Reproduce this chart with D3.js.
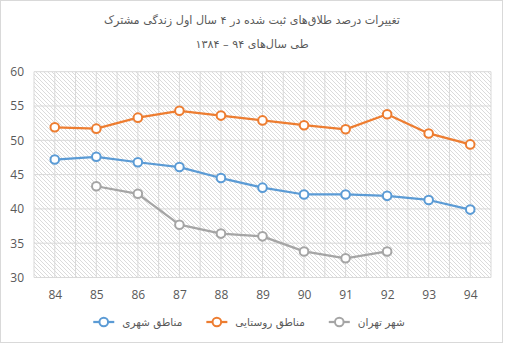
<!DOCTYPE html>
<html><head><meta charset="utf-8">
<script src="https://cdn.jsdelivr.net/npm/d3@7"></script>
<style>body{margin:0;background:#fff}svg{display:block}</style>
</head><body><svg id="c" width="505" height="344"></svg>
<script>
const years = ["84","85","86","87","88","89","90","91","92","93","94"];
const urban = [47.2,47.6,46.8,46.1,44.5,43.1,42.1,42.1,41.9,41.3,39.9];
const rural = [51.9,51.7,53.3,54.3,53.6,52.9,52.2,51.6,53.8,51.0,49.4];
const tehran = [null,43.3,42.2,37.7,36.4,36.0,33.8,32.8,33.8,null,null];
const yTicks = [30,35,40,45,50,55,60];
const seriesNames = ["مناطق شهری","مناطق روستایی","شهر تهران"];
const seriesColors = ["#5B9BD5","#ED7D31","#A5A5A5"];
const titleLines = ["تغییرات درصد طلاق\u200cهای ثبت شده در ۴ سال اول زندگی مشترک","طی سال\u200cهای ۹۴ – ۱۳۸۴"];

const svg = d3.select("#c");
const L = 34, R = 491, T = 71.7, B = 277.5;
const faFont = "'DejaVu Sans', sans-serif";
const numFont = "'Open Sans', 'Liberation Sans', sans-serif";

svg.append("rect").attr("x",0.5).attr("y",0.5).attr("width",502).attr("height",342)
  .attr("fill","#fff").attr("stroke","#D9D9D9");

const defs = svg.append("defs");
const pat = defs.append("pattern").attr("id","hatch").attr("patternUnits","userSpaceOnUse")
  .attr("width",4).attr("height",4);
pat.append("path").attr("d","M-1,-1 L5,5 M-1,3 L1,5 M3,-1 L5,1")
  .attr("stroke","#D2D2D2").attr("stroke-width",0.8).attr("fill","none");

const x = d3.scalePoint().domain(years).range([L,R]).padding(0.5);
const y = d3.scaleLinear().domain([30,60]).range([B,T]);

svg.append("rect").attr("x",L).attr("y",T).attr("width",R-L).attr("height",B-T).attr("fill","url(#hatch)");

// grid
const step = x.step();
const vLines = [];
for (let i=0;i<=years.length*2;i++) vLines.push(L + i*step/2);
svg.append("g").selectAll("line").data(vLines).join("line")
  .attr("x1",d=>d).attr("x2",d=>d).attr("y1",T).attr("y2",B)
  .attr("stroke","#D9D9D9").attr("stroke-width",1);
svg.append("g").selectAll("line").data(yTicks).join("line")
  .attr("x1",L).attr("x2",R).attr("y1",d=>y(d)).attr("y2",d=>y(d))
  .attr("stroke","#D9D9D9").attr("stroke-width",1);

// axes
const yAxis = svg.append("g").attr("transform",`translate(${L},0)`)
  .call(d3.axisLeft(y).tickValues(yTicks).tickSize(0).tickPadding(10));
yAxis.select(".domain").remove();
yAxis.selectAll("text").attr("font-family",numFont).attr("font-size",12).attr("fill","#595959");
const xAxis = svg.append("g").attr("transform",`translate(0,${B})`)
  .call(d3.axisBottom(x).tickSize(0).tickPadding(13));
xAxis.select(".domain").remove();
xAxis.selectAll("text").attr("font-family",numFont).attr("font-size",12).attr("fill","#595959");

// series
const allSeries = [urban, rural, tehran];
const line = d3.line().defined(d=>d.v!=null).x(d=>x(d.k)).y(d=>y(d.v));
allSeries.forEach((vals,i)=>{
  const pts = years.map((k,j)=>({k, v: vals[j]}));
  svg.append("path").datum(pts).attr("d",line).attr("fill","none")
    .attr("stroke",seriesColors[i]).attr("stroke-width",2.25).attr("stroke-linejoin","round");
  svg.append("g").selectAll("circle").data(pts.filter(d=>d.v!=null)).join("circle")
    .attr("cx",d=>x(d.k)).attr("cy",d=>y(d.v)).attr("r",4.3)
    .attr("fill","#fff").attr("stroke",seriesColors[i]).attr("stroke-width",2);
});

// title
svg.append("g").selectAll("text").data(titleLines).join("text")
  .attr("x",252).attr("y",(d,i)=>24+i*24).attr("text-anchor","middle").attr("direction","rtl")
  .attr("font-family",faFont).attr("font-size",11.2).attr("fill","#595959").text(d=>d);

// legend
const lg = svg.append("g");
const items = seriesNames.map((n,i)=>{
  const g = lg.append("g");
  g.append("line").attr("x1",0).attr("x2",21).attr("y1",0).attr("y2",0)
    .attr("stroke",seriesColors[i]).attr("stroke-width",2.25);
  g.append("circle").attr("cx",10.5).attr("cy",0).attr("r",4.3).attr("fill","#fff")
    .attr("stroke",seriesColors[i]).attr("stroke-width",2);
  const t = g.append("text").attr("x",29).attr("y",4).attr("text-anchor","start").attr("direction","ltr")
    .attr("font-family",faFont).attr("font-size",10.5).attr("fill","#595959").text(n);
  const w = 29 + t.node().getComputedTextLength();
  return {g,w};
});
const gap = 24;
const total = d3.sum(items,d=>d.w) + gap*(items.length-1);
let cx = 249 - total/2;
items.forEach(it=>{ it.g.attr("transform",`translate(${cx},322)`); cx += it.w + gap; });
</script></body></html>
